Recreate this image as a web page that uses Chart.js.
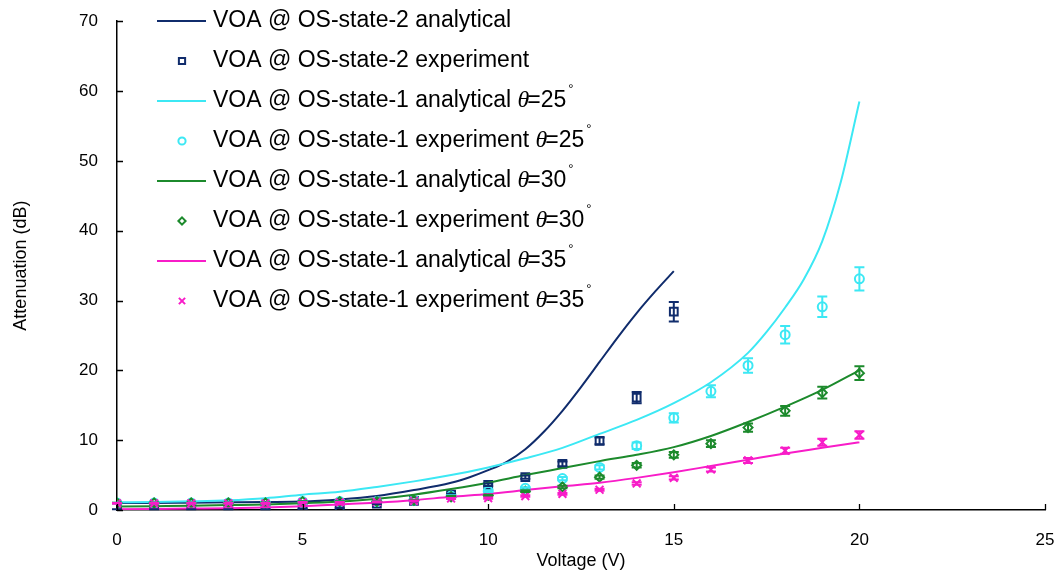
<!DOCTYPE html>
<html>
<head>
<meta charset="utf-8">
<script src="https://cdn.jsdelivr.net/npm/chart.js@4.4.1/dist/chart.umd.min.js"></script>
<style>
  html, body { margin: 0; padding: 0; background: #fff; }
  #wrap { width: 1061px; height: 572px; }
</style>
</head>
<body>
<div id="wrap"><canvas id="chart" width="1061" height="572"></canvas></div>
<script>
// series names
const labels = [
  'VOA @ OS-state-2 analytical',
  'VOA @ OS-state-2 experiment',
  'VOA @ OS-state-1 analytical θ=25°',
  'VOA @ OS-state-1 experiment θ=25°',
  'VOA @ OS-state-1 analytical θ=30°',
  'VOA @ OS-state-1 experiment θ=30°',
  'VOA @ OS-state-1 analytical θ=35°',
  'VOA @ OS-state-1 experiment θ=35°'
];

// analytical curves
const vAna2 = [0, 1, 2, 3, 4, 5, 6, 7, 8, 9, 9.5, 10, 10.5, 11, 11.5, 12, 12.5, 13, 13.5, 14, 14.5, 15];
const ana2  = [1.0, 1.0, 1.05, 1.1, 1.15, 1.2, 1.5, 2.0, 2.85, 3.9, 4.7, 5.7, 6.9, 8.7, 11.2, 14.2, 17.6, 21.2, 24.8, 28.2, 31.3, 34.2];

const vAna25 = [0, 1, 2, 3, 4, 5, 6, 7, 8, 9, 10, 11, 12, 13, 14, 15, 16, 17, 17.5, 18, 18.5, 19, 19.5, 20];
const ana25  = [1.1, 1.15, 1.25, 1.4, 1.7, 2.2, 2.6, 3.3, 4.1, 5.0, 6.1, 7.4, 8.9, 10.9, 12.9, 15.3, 18.3, 22.5, 25.5, 29.0, 33.0, 38.5, 47.0, 58.5];

const vAna1 = [0, 1, 2, 3, 4, 5, 6, 7, 8, 9, 10, 11, 12, 13, 14, 15, 16, 17, 18, 19, 20];
const ana30 = [0.5, 0.55, 0.6, 0.7, 0.8, 0.95, 1.2, 1.6, 2.2, 3.0, 3.9, 5.0, 6.0, 7.0, 7.9, 9.0, 10.6, 12.6, 14.8, 17.2, 20.0];
const ana35 = [0.1, 0.15, 0.2, 0.25, 0.35, 0.55, 0.8, 1.05, 1.4, 1.9, 2.3, 2.85, 3.4, 3.9, 4.6, 5.4, 6.3, 7.2, 8.1, 8.9, 9.7];

// measured points and their error bars
const vExp2 = [0, 1, 2, 3, 4, 5, 6, 7, 8, 9, 10, 11, 12, 13, 14, 15];
const exp2  = [0.1, 0.1, 0.1, 0.1, 0.1, 0.2, 0.3, 0.9, 1.3, 2.2, 3.6, 4.7, 6.6, 9.9, 16.1, 28.4];
const err2  = [0.01, 0.01, 0.01, 0.01, 0.01, 0.01, 0.02, 0.05, 0.07, 0.11, 0.18, 0.24, 0.33, 0.5, 0.8, 1.4];

const vExp1 = [0, 1, 2, 3, 4, 5, 6, 7, 8, 9, 10, 11, 12, 13, 14, 15, 16, 17, 18, 19, 20];
const exp25 = [1.0, 1.0, 1.0, 1.0, 1.0, 1.2, 1.2, 1.2, 1.4, 2.0, 2.7, 3.1, 4.5, 6.1, 9.2, 13.2, 17.0, 20.7, 25.1, 29.1, 33.1];
const err25 = [0.05, 0.05, 0.05, 0.05, 0.05, 0.06, 0.06, 0.06, 0.07, 0.1, 0.14, 0.16, 0.23, 0.3, 0.46, 0.66, 0.85, 1.04, 1.26, 1.46, 1.66];
const exp30 = [1.0, 1.0, 1.0, 1.0, 1.0, 1.2, 1.2, 1.2, 1.4, 1.9, 2.1, 2.7, 3.3, 4.7, 6.4, 7.9, 9.5, 11.8, 14.2, 16.8, 19.6];
const err30 = [0.05, 0.05, 0.05, 0.05, 0.05, 0.06, 0.06, 0.06, 0.07, 0.1, 0.1, 0.14, 0.17, 0.24, 0.32, 0.4, 0.48, 0.59, 0.71, 0.84, 0.98];
const exp35 = [0.95, 0.95, 0.95, 0.95, 0.95, 1.1, 1.1, 1.15, 1.3, 1.65, 1.7, 2.0, 2.3, 2.9, 3.8, 4.6, 5.8, 7.1, 8.5, 9.7, 10.75];
const err35 = [0.05, 0.05, 0.05, 0.05, 0.05, 0.06, 0.06, 0.06, 0.07, 0.08, 0.09, 0.1, 0.12, 0.15, 0.19, 0.23, 0.29, 0.36, 0.43, 0.49, 0.54];

// axis ticks
const xTicks = [0, 5, 10, 15, 20, 25];
const yTicks = [0, 10, 20, 30, 40, 50, 60, 70];

const NAVY = '#102C6C', CYAN = '#3CE8F4', GREEN = '#1C8A2C', PINK = '#F81CC8';
const FONT = '"Liberation Sans", Arial, sans-serif';

const pts = (xs, ys) => xs.map((x, i) => ({ x: x, y: ys[i] }));

function lineSet(label, xs, ys, color) {
  return { label, data: pts(xs, ys), borderColor: color, backgroundColor: color,
    borderWidth: 2, showLine: true, pointRadius: 0, cubicInterpolationMode: 'monotone' };
}
function markSet(label, xs, ys, errs, color, style, r) {
  return { label, data: pts(xs, ys), errs, borderColor: color, backgroundColor: 'rgba(0,0,0,0)',
    showLine: false, pointStyle: style, pointRadius: r, pointBorderWidth: 2 };
}

const datasets = [
  lineSet(labels[0], vAna2, ana2, NAVY),
  markSet(labels[1], vExp2, exp2, err2, NAVY, 'rect', 5.5),
  lineSet(labels[2], vAna25, ana25, CYAN),
  markSet(labels[3], vExp1, exp25, err25, CYAN, 'circle', 4.5),
  lineSet(labels[4], vAna1, ana30, GREEN),
  markSet(labels[5], vExp1, exp30, err30, GREEN, 'rectRot', 4.5),
  lineSet(labels[6], vAna1, ana35, PINK),
  markSet(labels[7], vExp1, exp35, err35, PINK, 'crossRot', 5.5)
];
datasets.forEach((d, i) => { d.order = datasets.length - i; });

// error bars drawn through the scales
const errorBars = {
  id: 'errorBars',
  afterDatasetsDraw(chart) {
    const ctx = chart.ctx, xs = chart.scales.x, ys = chart.scales.y;
    chart.data.datasets.forEach(ds => {
      if (!ds.errs) return;
      ctx.save();
      ctx.strokeStyle = ds.borderColor;
      ctx.lineWidth = 2;
      ds.data.forEach((p, i) => {
        const px = xs.getPixelForValue(p.x);
        const top = ys.getPixelForValue(p.y + ds.errs[i]);
        const bot = ys.getPixelForValue(p.y - ds.errs[i]);
        ctx.beginPath();
        ctx.moveTo(px, top); ctx.lineTo(px, bot);
        ctx.moveTo(px - 5, top); ctx.lineTo(px + 5, top);
        ctx.moveTo(px - 5, bot); ctx.lineTo(px + 5, bot);
        ctx.stroke();
      });
      ctx.restore();
    });
  }
};

// inward tick marks like the original
const tickMarks = {
  id: 'tickMarks',
  afterDraw(chart) {
    const ctx = chart.ctx, xs = chart.scales.x, ys = chart.scales.y, a = chart.chartArea;
    ctx.save();
    ctx.strokeStyle = '#000';
    ctx.lineWidth = 1.3;
    ctx.beginPath();
    yTicks.forEach(v => { const py = Math.round(ys.getPixelForValue(v)) + 0.5; ctx.moveTo(a.left, py); ctx.lineTo(a.left + 6, py); });
    xTicks.forEach(v => { const px = Math.round(xs.getPixelForValue(v)) + 0.5; ctx.moveTo(px, a.bottom); ctx.lineTo(px, a.bottom - 6); });
    ctx.stroke();
    ctx.restore();
  }
};

// legend drawn inside the plot, upper left
const innerLegend = {
  id: 'innerLegend',
  afterDraw(chart) {
    const ctx = chart.ctx;
    const size = 23;
    chart.data.datasets.forEach((ds, i) => {
      const y = 21 + 40 * i;
      ctx.save();
      if (ds.showLine) {
        ctx.strokeStyle = ds.borderColor;
        ctx.lineWidth = 2;
        ctx.beginPath(); ctx.moveTo(157, y); ctx.lineTo(206, y); ctx.stroke();
      } else {
        ctx.strokeStyle = ds.borderColor;
        ctx.fillStyle = 'rgba(0,0,0,0)';
        ctx.lineWidth = 2;
        Chart.helpers.drawPoint(ctx, { pointStyle: ds.pointStyle, radius: ds.pointRadius * 0.8, borderWidth: 2, rotation: 0 }, 182, y);
      }
      ctx.fillStyle = '#000';
      ctx.textBaseline = 'middle';
      let x = 213;
      const parts = ds.label.split('θ');
      ctx.font = size + 'px ' + FONT;
      ctx.fillText(parts[0], x, y);
      x += ctx.measureText(parts[0]).width;
      if (parts.length > 1) {
        ctx.font = 'italic ' + (size + 1) + 'px "Liberation Serif", "Times New Roman", serif';
        ctx.fillText('θ', x, y);
        x += ctx.measureText('θ').width - 2;
        const rest = parts[1].replace('°', '');
        ctx.font = size + 'px ' + FONT;
        ctx.fillText(rest, x, y);
        x += ctx.measureText(rest).width + 2;
        ctx.font = '13px ' + FONT;
        ctx.fillText('°', x, y - 12);
      }
      ctx.restore();
    });
  }
};

new Chart(document.getElementById('chart').getContext('2d'), {
  type: 'scatter',
  data: { datasets },
  options: {
    responsive: false,
    animation: false,
    layout: { padding: { top: 8, right: 0, left: 0, bottom: 0 } },
    plugins: { legend: { display: false }, tooltip: { enabled: false } },
    scales: {
      x: {
        type: 'linear', min: 0, max: 25,
        afterBuildTicks: s => { s.ticks = xTicks.map(v => ({ value: v })); },
        afterFit: s => { s.height = 62; s.paddingRight = 16; },
        grid: { display: false },
        border: { color: '#000', width: 1.5 },
        ticks: { color: '#000', font: { family: FONT, size: 17 }, padding: 12 },
        title: { display: true, text: 'Voltage (V)', color: '#000', font: { family: FONT, size: 18 }, padding: { top: 0, bottom: 0 } }
      },
      y: {
        type: 'linear', min: 0, max: 70,
        afterBuildTicks: s => { s.ticks = yTicks.map(v => ({ value: v })); },
        afterFit: s => { s.width = 117; },
        grid: { display: false },
        border: { color: '#000', width: 1.5 },
        ticks: { color: '#000', font: { family: FONT, size: 17 }, padding: 11 },
        title: { display: true, text: 'Attenuation (dB)', color: '#000', font: { family: FONT, size: 18 }, padding: { top: 10, bottom: 0 } }
      }
    }
  },
  plugins: [errorBars, tickMarks, innerLegend]
});
</script>
</body>
</html>
